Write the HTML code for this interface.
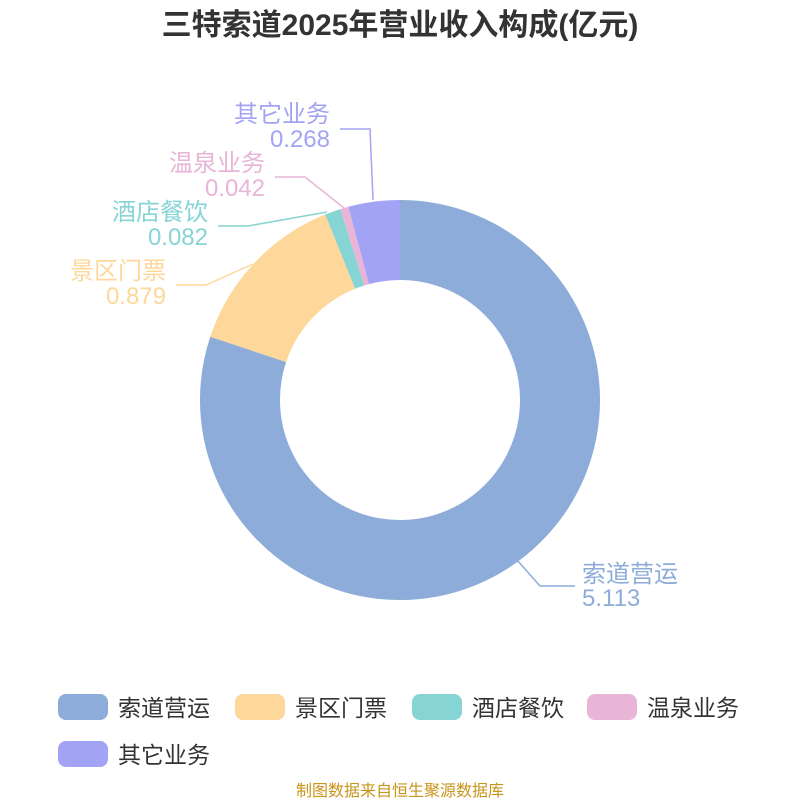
<!DOCTYPE html>
<html><head><meta charset="utf-8"><style>
body{margin:0;background:#fff;width:800px;height:800px;overflow:hidden;font-family:"Liberation Sans","Noto Sans CJK SC",sans-serif}
</style></head><body>
<svg width="800" height="800" xmlns="http://www.w3.org/2000/svg" font-family="Liberation Sans, Noto Sans CJK SC, sans-serif">
<text x="400" y="35" text-anchor="middle" font-size="30" font-weight="bold" fill="#333">三特索道2025年营业收入构成(亿元)</text>
<g transform="rotate(-90 400 400)" fill="none" stroke-width="80">
<circle cx="400" cy="400" r="160" stroke="#8eacd9" stroke-dasharray="805.2 1005.3" stroke-dashoffset="0"/>
<circle cx="400" cy="400" r="160" stroke="#fdd89a" stroke-dasharray="138.4 1005.3" stroke-dashoffset="-805.2"/>
<circle cx="400" cy="400" r="160" stroke="#86d4d4" stroke-dasharray="12.9 1005.3" stroke-dashoffset="-943.6"/>
<circle cx="400" cy="400" r="160" stroke="#e8b5d6" stroke-dasharray="6.6 1005.3" stroke-dashoffset="-956.5"/>
<circle cx="400" cy="400" r="160" stroke="#a3a3f5" stroke-dasharray="42.2 1005.3" stroke-dashoffset="-963.1"/>
</g>
<g fill="none" stroke-width="1.5">
<polyline points="373,200 370,129 340,129" stroke="#a3a3f5"/>
<polyline points="344,208 305,177 275,177" stroke="#e8b5d6"/>
<polyline points="327,212 248,226 218,226" stroke="#86d4d4"/>
<polyline points="253,264 206,285 176,285" stroke="#fdd89a"/>
<polyline points="517,560 540,586 575,586" stroke="#8eacd9"/>
</g>
<g font-size="24">
<text x="330" y="122" text-anchor="end" fill="#a3a3f5">其它业务</text>
<text x="330" y="147" text-anchor="end" fill="#a3a3f5">0.268</text>
<text x="265" y="171" text-anchor="end" fill="#e8b5d6">温泉业务</text>
<text x="265" y="196" text-anchor="end" fill="#e8b5d6">0.042</text>
<text x="208" y="220" text-anchor="end" fill="#86d4d4">酒店餐饮</text>
<text x="208" y="245" text-anchor="end" fill="#86d4d4">0.082</text>
<text x="166" y="279" text-anchor="end" fill="#fdd89a">景区门票</text>
<text x="166" y="304" text-anchor="end" fill="#fdd89a">0.879</text>
<text x="582" y="582" fill="#8eacd9">索道营运</text>
<text x="582" y="606" fill="#8eacd9">5.113</text>
</g>
<g font-size="23" fill="#333">
<rect x="58" y="694" width="50" height="26" rx="8" fill="#8eacd9"/><text x="118" y="716">索道营运</text>
<rect x="235" y="694" width="50" height="26" rx="8" fill="#fdd89a"/><text x="295" y="716">景区门票</text>
<rect x="412" y="694" width="50" height="26" rx="8" fill="#86d4d4"/><text x="472" y="716">酒店餐饮</text>
<rect x="587" y="694" width="50" height="26" rx="8" fill="#e8b5d6"/><text x="647" y="716">温泉业务</text>
<rect x="58" y="741" width="50" height="26" rx="8" fill="#a3a3f5"/><text x="118" y="763">其它业务</text>
</g>
<text x="400" y="796" text-anchor="middle" font-size="16" fill="#c8941a">制图数据来自恒生聚源数据库</text>
</svg>
</body></html>
